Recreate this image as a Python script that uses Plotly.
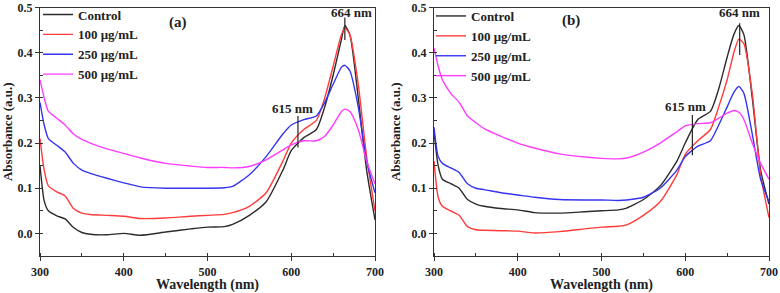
import plotly.graph_objects as go

# ---------------- data ----------------
series_names = ["Control", "100 μg/mL", "250 μg/mL", "500 μg/mL"]
colors = ["#2b2b2b", "#ff3b3b", "#3535f0", "#ff3cff"]

# Panel (a)
wl_a = [300, 305, 310, 320, 330, 340, 350, 360, 380, 400, 420, 450, 480, 500, 520, 530, 550, 570,
        590, 600, 615, 630, 640, 650, 660, 664, 670, 680, 690, 700]
control_a = [0.150, 0.072, 0.050, 0.039, 0.032, 0.013, 0.002, -0.002, -0.003, 0.000, -0.004, 0.003,
             0.010, 0.014, 0.015, 0.020, 0.040, 0.070, 0.140, 0.183, 0.212, 0.230, 0.280, 0.350,
             0.430, 0.460, 0.440, 0.300, 0.140, 0.030]
c100_a = [0.210, 0.140, 0.105, 0.092, 0.083, 0.055, 0.045, 0.042, 0.040, 0.038, 0.033, 0.034,
          0.038, 0.040, 0.042, 0.046, 0.060, 0.090, 0.160, 0.200, 0.230, 0.250, 0.300, 0.370,
          0.440, 0.455, 0.440, 0.330, 0.170, 0.050]
c250_a = [0.290, 0.240, 0.210, 0.195, 0.180, 0.155, 0.140, 0.133, 0.122, 0.112, 0.103, 0.100,
          0.100, 0.100, 0.101, 0.104, 0.130, 0.170, 0.220, 0.240, 0.252, 0.260, 0.290, 0.330,
          0.368, 0.372, 0.360, 0.280, 0.160, 0.090]
c500_a = [0.340, 0.300, 0.270, 0.255, 0.240, 0.220, 0.208, 0.200, 0.187, 0.177, 0.167, 0.155,
          0.149, 0.146, 0.146, 0.145, 0.148, 0.163, 0.185, 0.196, 0.205, 0.205, 0.215, 0.240,
          0.270, 0.275, 0.270, 0.230, 0.160, 0.110]

# Panel (b)
wl_b = [300, 305, 310, 320, 330, 340, 350, 360, 380, 400, 420, 450, 480, 500, 520, 530, 550, 570,
        590, 600, 615, 630, 640, 650, 658, 664, 670, 680, 690, 700]
control_b = [0.225, 0.150, 0.120, 0.110, 0.100, 0.075, 0.065, 0.060, 0.055, 0.052, 0.046, 0.045,
             0.048, 0.050, 0.052, 0.056, 0.075, 0.105, 0.160, 0.200, 0.252, 0.270, 0.320, 0.390,
             0.440, 0.460, 0.440, 0.300, 0.140, 0.065]
c100_b = [0.160, 0.080, 0.060, 0.050, 0.040, 0.015, 0.008, 0.007, 0.006, 0.005, 0.001, 0.004,
          0.010, 0.014, 0.016, 0.019, 0.040, 0.070, 0.130, 0.175, 0.205, 0.230, 0.280, 0.340,
          0.400, 0.430, 0.420, 0.310, 0.130, 0.035]
c250_b = [0.235, 0.170, 0.155, 0.145, 0.135, 0.110, 0.100, 0.097, 0.090, 0.085, 0.080, 0.075,
          0.074, 0.074, 0.073, 0.074, 0.080, 0.100, 0.140, 0.170, 0.193, 0.205, 0.240, 0.280,
          0.312, 0.325, 0.310, 0.220, 0.120, 0.070]
c500_b = [0.410, 0.370, 0.340, 0.310, 0.290, 0.260, 0.245, 0.232, 0.215, 0.200, 0.189, 0.176,
          0.169, 0.166, 0.165, 0.167, 0.180, 0.200, 0.225, 0.238, 0.243, 0.245, 0.255, 0.266,
          0.272, 0.268, 0.252, 0.200, 0.155, 0.120]

panels = [
    dict(wl=wl_a, ys=[control_a, c100_a, c250_a, c500_a], label="(a)", label_pos=(465, 0.467),
         peak1=(608, 0.19, 0.26, 601, 0.276), peak2=(664, 0.428, 0.478, 672, 0.488)),
    dict(wl=wl_b, ys=[control_b, c100_b, c250_b, c500_b], label="(b)", label_pos=(464, 0.472),
         peak1=(608.5, 0.173, 0.262, 600, 0.28), peak2=(665, 0.395, 0.465, 665, 0.488)),
]

FONT = "Liberation Serif"
fig = go.Figure()

for pi, p in enumerate(panels):
    xa = "x" if pi == 0 else "x2"
    ya = "y" if pi == 0 else "y2"
    lg = "legend" if pi == 0 else "legend2"
    for si, name in enumerate(series_names):
        fig.add_trace(go.Scatter(
            x=p["wl"], y=p["ys"][si], name=name, mode="lines",
            line=dict(color=colors[si], width=1.4, shape="spline", smoothing=0.6),
            xaxis=xa, yaxis=ya, legend=lg))
    xref = "x" if pi == 0 else "x2"
    yref = "y" if pi == 0 else "y2"
    for pk, txt in ((p["peak1"], "615 nm"), (p["peak2"], "664 nm")):
        x0, y0, y1, tx, ty = pk
        fig.add_shape(type="line", xref=xref, yref=yref, x0=x0, x1=x0, y0=y0, y1=y1,
                      line=dict(color="#222", width=1.2))
        fig.add_annotation(xref=xref, yref=yref, x=tx, y=ty, text="<b>%s</b>" % txt,
                           showarrow=False, font=dict(family=FONT, size=13, color="#222"))
    fig.add_annotation(xref=xref, yref=yref, x=p["label_pos"][0], y=p["label_pos"][1],
                       text="<b>%s</b>" % p["label"], showarrow=False,
                       font=dict(family=FONT, size=15, color="#222"))

W, H = 780, 293
def px(v):
    return v / W
def py(v):
    return 1 - v / H

xdom_a = [px(40), px(375)]
xdom_b = [px(434), px(769)]
ydom = [py(256), py(7.5)]

axis_common = dict(
    showline=True, linecolor="#333", linewidth=1.3, mirror=True, showgrid=False, zeroline=False,
    ticks="outside", ticklen=4, tickcolor="#333", automargin=False, ticklabeloverflow="allow",
    tickfont=dict(family=FONT, size=12, color="#222", weight="bold"),
)
xaxis_common = dict(axis_common, range=[300, 700], tickvals=[300, 400, 500, 600, 700],
                    minor=dict(ticks="inside", ticklen=3, dtick=50, tickcolor="#333"),
                    title=dict(text="<b>Wavelength (nm)</b>", standoff=1,
                               font=dict(family=FONT, size=14, color="#222")))
yaxis_common = dict(axis_common, range=[-0.05, 0.5], tickvals=[0.0, 0.1, 0.2, 0.3, 0.4, 0.5],
                    tickformat=".1f",
                    minor=dict(ticks="inside", ticklen=3, dtick=0.05, tickcolor="#333"),
                    title=dict(text="<b>Absorbance (a.u.)</b>", standoff=7,
                               font=dict(family=FONT, size=13, color="#222")))

legend_common = dict(font=dict(family=FONT, size=13, color="#222", weight="bold"),
                     bgcolor="rgba(0,0,0,0)", borderwidth=0, tracegroupgap=0,
                     itemwidth=30, xanchor="left", yanchor="top")

fig.update_layout(
    width=W, height=H, margin=dict(l=0, r=0, t=0, b=0, autoexpand=False),
    paper_bgcolor="white", plot_bgcolor="white",
    xaxis=dict(xaxis_common, domain=xdom_a, anchor="y"),
    yaxis=dict(yaxis_common, domain=ydom, anchor="x"),
    xaxis2=dict(xaxis_common, domain=xdom_b, anchor="y2"),
    yaxis2=dict(yaxis_common, domain=ydom, anchor="x2"),
    legend=dict(legend_common, x=px(38), y=py(-0.5)),
    legend2=dict(legend_common, x=px(431), y=py(1)),
    showlegend=True,
)

# remove the browser's default 8px body margin so the figure sits at the page origin
fig.write_html("out.html", config={"displayModeBar": False},
               post_script="document.body.style.margin='0px';")
